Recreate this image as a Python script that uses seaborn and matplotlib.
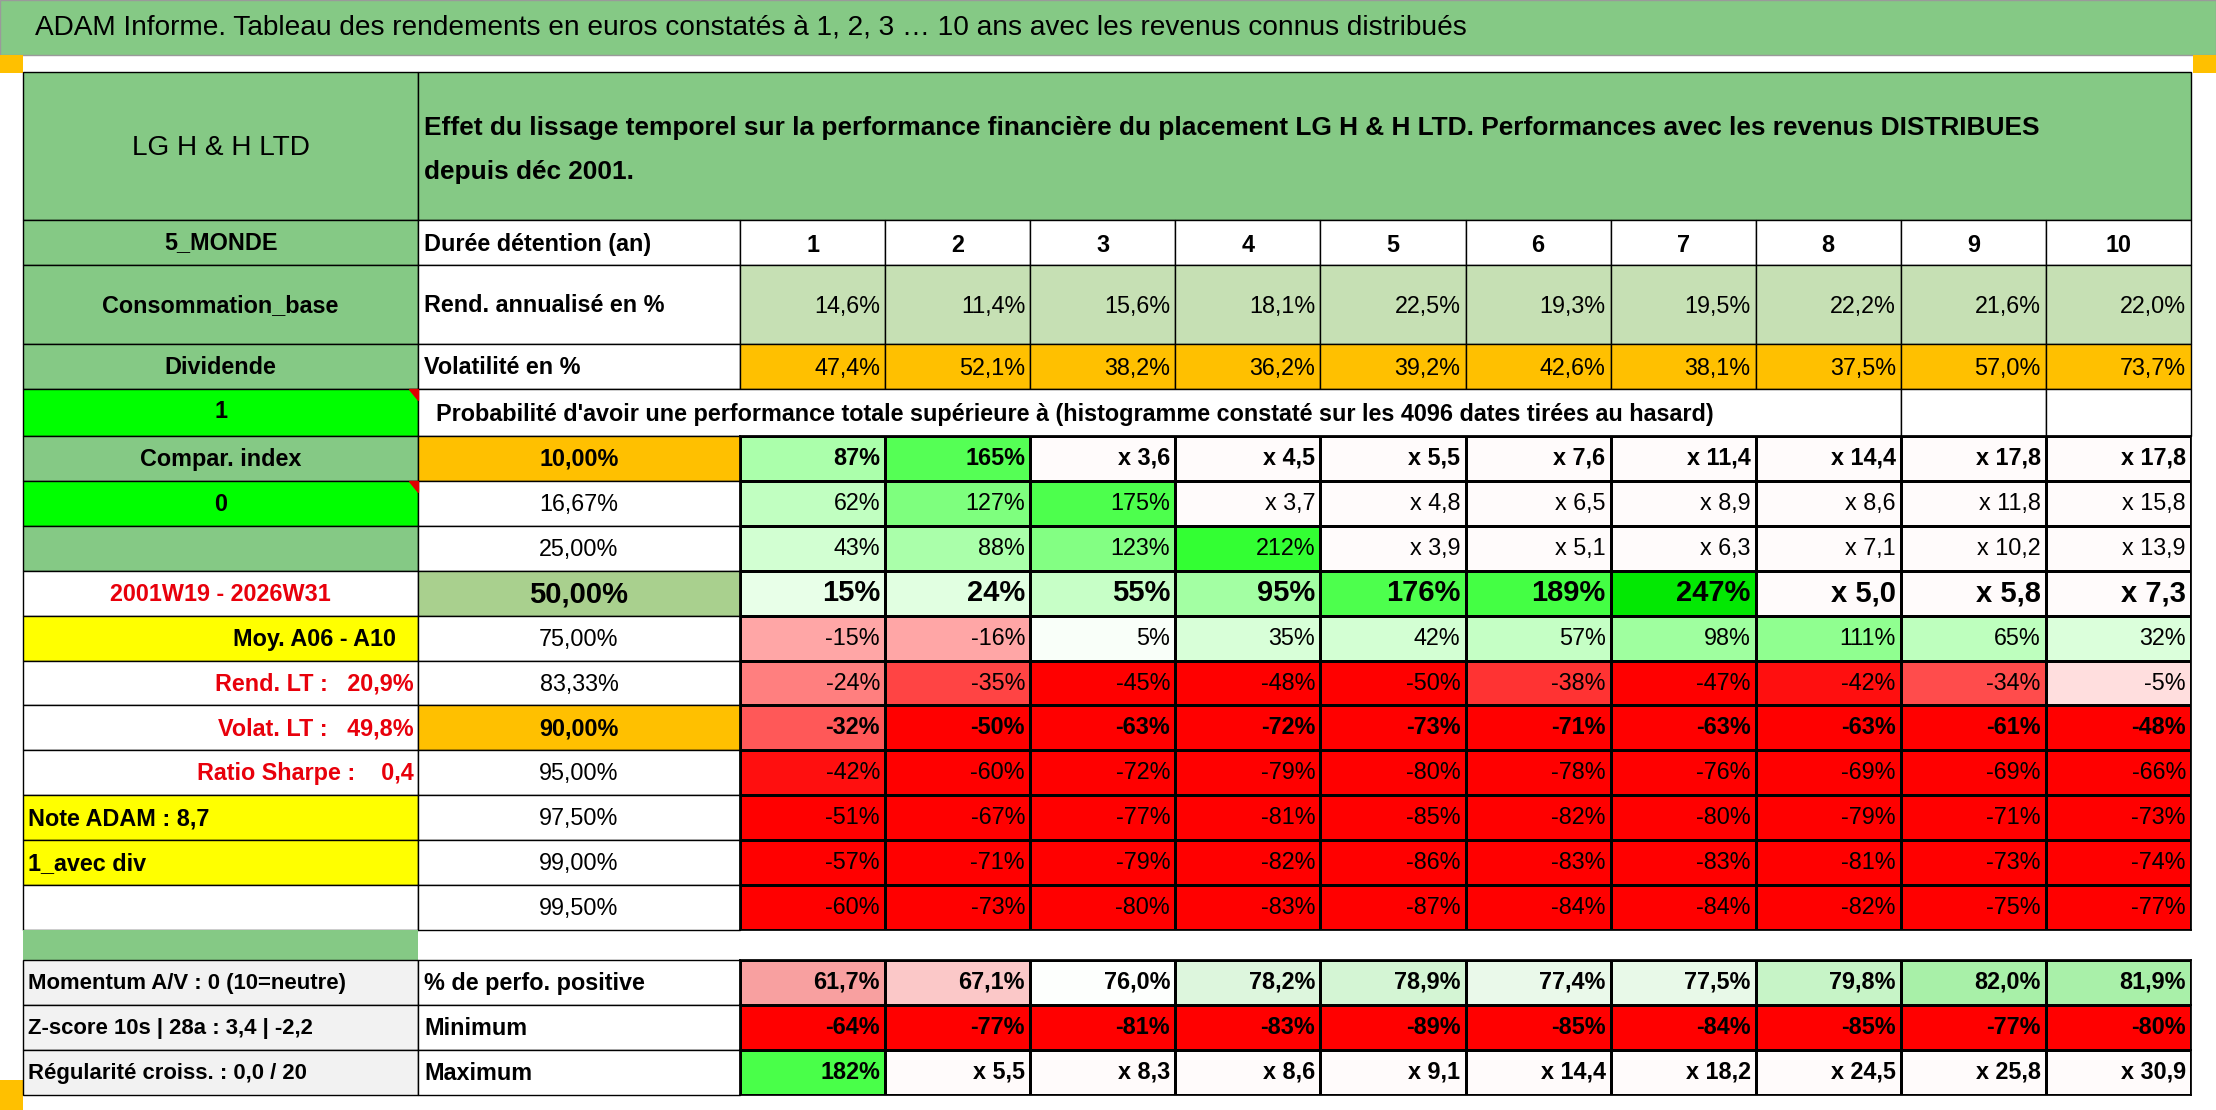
import numpy as np
import matplotlib
matplotlib.use("Agg")
import matplotlib.pyplot as plt
from matplotlib import font_manager
from matplotlib.colors import LinearSegmentedColormap, ListedColormap
from matplotlib.patches import Rectangle, Polygon
import seaborn as sns

W, H = 2216, 1110

# ---- data ----
TITLE = "ADAM Informe. Tableau des rendements en euros constatés à 1, 2, 3 … 10 ans avec les revenus connus distribués"
HEADER = ("Effet du lissage temporel sur la performance financière du placement LG H & H LTD. "
          "Performances avec les revenus DISTRIBUES\ndepuis déc 2001.")
years = [str(i) for i in range(1, 11)]
rend = ["14,6%", "11,4%", "15,6%", "18,1%", "22,5%", "19,3%", "19,5%", "22,2%", "21,6%", "22,0%"]
volat = ["47,4%", "52,1%", "38,2%", "36,2%", "39,2%", "42,6%", "38,1%", "37,5%", "57,0%", "73,7%"]
percentiles = ["10,00%", "16,67%", "25,00%", "50,00%", "75,00%", "83,33%",
               "90,00%", "95,00%", "97,50%", "99,00%", "99,50%"]
perf_rows = [
    ["87%", "165%", "x 3,6", "x 4,5", "x 5,5", "x 7,6", "x 11,4", "x 14,4", "x 17,8", "x 17,8"],
    ["62%", "127%", "175%", "x 3,7", "x 4,8", "x 6,5", "x 8,9", "x 8,6", "x 11,8", "x 15,8"],
    ["43%", "88%", "123%", "212%", "x 3,9", "x 5,1", "x 6,3", "x 7,1", "x 10,2", "x 13,9"],
    ["15%", "24%", "55%", "95%", "176%", "189%", "247%", "x 5,0", "x 5,8", "x 7,3"],
    ["-15%", "-16%", "5%", "35%", "42%", "57%", "98%", "111%", "65%", "32%"],
    ["-24%", "-35%", "-45%", "-48%", "-50%", "-38%", "-47%", "-42%", "-34%", "-5%"],
    ["-32%", "-50%", "-63%", "-72%", "-73%", "-71%", "-63%", "-63%", "-61%", "-48%"],
    ["-42%", "-60%", "-72%", "-79%", "-80%", "-78%", "-76%", "-69%", "-69%", "-66%"],
    ["-51%", "-67%", "-77%", "-81%", "-85%", "-82%", "-80%", "-79%", "-71%", "-73%"],
    ["-57%", "-71%", "-79%", "-82%", "-86%", "-83%", "-83%", "-81%", "-73%", "-74%"],
    ["-60%", "-73%", "-80%", "-83%", "-87%", "-84%", "-84%", "-82%", "-75%", "-77%"],
]
left_labels = ["Compar. index", "0", "", "2001W19 - 2026W31", "Moy. A06 - A10",
               "Rend. LT :   20,9%", "Volat. LT :   49,8%", "Ratio Sharpe :    0,4",
               "Note ADAM : 8,7", "1_avec div", ""]
pos_share = ["61,7%", "67,1%", "76,0%", "78,2%", "78,9%", "77,4%", "77,5%", "79,8%", "82,0%", "81,9%"]
minimum = ["-64%", "-77%", "-81%", "-83%", "-89%", "-85%", "-84%", "-85%", "-77%", "-80%"]
maximum = ["182%", "x 5,5", "x 8,3", "x 8,6", "x 9,1", "x 14,4", "x 18,2", "x 24,5", "x 25,8", "x 30,9"]
bottom_labels = ["Momentum A/V : 0 (10=neutre)", "Z-score 10s | 28a : 3,4 | -2,2", "Régularité croiss. : 0,0 / 20"]
bottom_names = ["% de perfo. positive", "Minimum", "Maximum"]

GREEN = "#85c985"
LIME = "#00ff00"
ORANGE = "#ffc000"
YELLOW = "#ffff00"
RED_TXT = "#e8000b"

installed = {f.name for f in font_manager.fontManager.ttflist}
if "Liberation Sans Narrow" in installed:
    FONT, K = ["Liberation Sans Narrow", "DejaVu Sans"], 1.0
else:
    FONT, K = ["Liberation Sans", "DejaVu Sans"], 0.84

sns.set_theme(style="white")
plt.rcParams["font.family"] = FONT


def to_value(s):
    """Displayed label -> total performance in %, multiples shown as 'x m'."""
    s = s.replace(",", ".").replace("%", "")
    if s.startswith("x"):
        return (float(s[1:]) - 1) * 100
    return float(s)


def colour_value(s):
    # multiples are left without fill (0 maps to white)
    return 0.0 if s.startswith("x") else to_value(s)


perf_cmap = LinearSegmentedColormap.from_list("perf", [
    (0.0, "#ff0000"), (5 / 300, "#ff0000"), (15 / 300, "#ff4b4b"), (26 / 300, "#ff8080"),
    (35 / 300, "#ffaaaa"), (45 / 300, "#ffe0e0"), (50 / 300, "#ffffff"), (65 / 300, "#e8ffe8"),
    (95 / 300, "#d0ffd0"), (140 / 300, "#a8ffa8"), (165 / 300, "#8cff8c"),
    (215 / 300, "#55ff55"), (262 / 300, "#33ff33"), (1.0, "#00e600")])
share_cmap = LinearSegmentedColormap.from_list("share", [
    (0.0, "#f8a0a0"), (0.27, "#fbc8c8"), (0.7, "#ffffff"), (0.8, "#e2f7e2"), (1.0, "#a8f0a8")])

fig = plt.figure(figsize=(W / 100, H / 100), dpi=100)
bg = fig.add_axes([0, 0, 1, 1])
bg.set_xlim(0, W)
bg.set_ylim(H, 0)
bg.axis("off")


def cell(x0, y0, x1, y1, color="white", lw=1.0):
    bg.add_patch(Rectangle((x0, y0), x1 - x0, y1 - y0, facecolor=color,
                           edgecolor="black", linewidth=lw, zorder=1))


def txt(x, y, s, ha="center", size=20, bold=False, color="black", **kw):
    bg.text(x, y, s, ha=ha, va="center", fontsize=size * K, color=color,
            fontweight="bold" if bold else "normal", zorder=3, **kw)


def axes_at(x0, y0, x1, y1):
    return fig.add_axes([x0 / W, 1 - y1 / H, (x1 - x0) / W, (y1 - y0) / H])


def strip(x0, y0, x1, y1, labels, cmap, vmin, vmax, bold_rows=(), sizes=None):
    lab = np.array(labels, dtype=object)
    vals = np.array([[colour_value(s) for s in row] for row in labels], dtype=float)
    ax = axes_at(x0, y0, x1, y1)
    sns.heatmap(vals, ax=ax, cmap=cmap, vmin=vmin, vmax=vmax, cbar=False,
                linewidths=1, linecolor="black", annot=lab, fmt="",
                annot_kws={"fontsize": 20 * K, "color": "black"},
                xticklabels=False, yticklabels=False)
    for t in ax.texts:
        cx, cy = t.get_position()
        r = int(cy)
        t.set_ha("right")
        t.set_x(int(cx) + 0.965)
        t.set_color("black")
        if r in bold_rows:
            t.set_fontweight("bold")
        if sizes is not None:
            t.set_fontsize(sizes[r] * K)
    for s in ax.spines.values():
        s.set_visible(True)
        s.set_color("black")
    return ax


COL_X = np.linspace(740, 2191, 11)
LX0, LX1, NX1 = 23, 418, 740

# title bar
bg.add_patch(Rectangle((0, 0), W, 55, facecolor=GREEN, edgecolor="#9a9a9a", lw=1))
txt(35, 28, TITLE, ha="left", size=24)
bg.add_patch(Rectangle((0, 55), 23, 18, facecolor=ORANGE, lw=0))
bg.add_patch(Rectangle((2193, 55), 23, 18, facecolor=ORANGE, lw=0))
bg.add_patch(Rectangle((0, 1080), 23, 30, facecolor=ORANGE, lw=0))

# header
cell(LX0, 72, LX1, 220, GREEN)
cell(LX1, 72, 2191, 220, GREEN)
txt((LX0 + LX1) / 2, 148, "LG H & H LTD", size=24)
txt(424, 150, HEADER, ha="left", size=22.5, bold=True, linespacing=2.0)

# durée row
cell(LX0, 220, LX1, 265, GREEN)
cell(LX1, 220, NX1, 265)
txt((LX0 + LX1) / 2, 243, "5_MONDE", bold=True)
txt(424, 245, "Durée détention (an)", ha="left", bold=True)
for j, y in enumerate(years):
    cell(COL_X[j], 220, COL_X[j + 1], 265)
    txt((COL_X[j] + COL_X[j + 1]) / 2, 245, y, bold=True)

# rendement / volatilité rows
cell(LX0, 265, LX1, 344, GREEN)
cell(LX1, 265, NX1, 344)
txt((LX0 + LX1) / 2, 306, "Consommation_base", bold=True)
txt(424, 306, "Rend. annualisé en %", ha="left", bold=True)
cell(LX0, 344, LX1, 389, GREEN)
cell(LX1, 344, NX1, 389)
txt((LX0 + LX1) / 2, 367, "Dividende", bold=True)
txt(424, 368, "Volatilité en %", ha="left", bold=True)
for j in range(10):
    cell(COL_X[j], 265, COL_X[j + 1], 344, "#c6e0b4")
    txt(COL_X[j + 1] - 5, 306, rend[j], ha="right")
    cell(COL_X[j], 344, COL_X[j + 1], 389, ORANGE)
    txt(COL_X[j + 1] - 5, 368, volat[j], ha="right")

# probability caption row
cell(LX0, 389, LX1, 436, LIME)
txt((LX0 + LX1) / 2, 412, "1", bold=True)
bg.add_patch(Polygon([[LX1 - 9, 389], [LX1, 389], [LX1, 400]], color="#e00000", zorder=2))
cell(LX1, 389, COL_X[8], 436)
cell(COL_X[8], 389, COL_X[9], 436)
cell(COL_X[9], 389, COL_X[10], 436)
txt(436, 414, "Probabilité d'avoir une performance totale supérieure à "
    "(histogramme constaté sur les 4096 dates tirées au hasard)", ha="left", bold=True)

# percentile block: labels
y_blk = np.linspace(436, 930, 12)
left_bg = [GREEN, LIME, GREEN, "white", YELLOW, "white", "white", "white", YELLOW, YELLOW, "white"]
name_bg = [ORANGE, "white", "white", "#a9d08e", "white", "white", ORANGE, "white", "white", "white", "white"]
for i, (lab, pct) in enumerate(zip(left_labels, percentiles)):
    y0, y1 = y_blk[i], y_blk[i + 1]
    ym = (y0 + y1) / 2 + 1
    cell(LX0, y0, LX1, y1, left_bg[i])
    cell(LX1, y0, NX1, y1, name_bg[i])
    txt((LX1 + NX1) / 2, ym, pct, size=25 if i == 3 else 20, bold=i in (0, 3, 6))
    if i in (0, 1, 2):
        txt((LX0 + LX1) / 2, ym, lab, bold=True)
    elif i == 3:
        txt((LX0 + LX1) / 2, ym, lab, color=RED_TXT, bold=True)
    elif i == 4:
        txt(396, ym, lab, ha="right", bold=True)
    elif i in (5, 6, 7):
        txt(414, ym, lab, ha="right", color=RED_TXT, bold=True)
    else:
        txt(28, ym, lab, ha="left", bold=True)
bg.add_patch(Polygon([[LX1 - 9, y_blk[1]], [LX1, y_blk[1]], [LX1, y_blk[1] + 11]],
                     color="#e00000", zorder=2))

strip(COL_X[0], 436, COL_X[10], 930, perf_rows, perf_cmap, -50, 250,
      bold_rows=(0, 3, 6), sizes=[20, 20, 20, 25, 20, 20, 20, 20, 20, 20, 20])

# spacer
bg.add_patch(Rectangle((LX0, 930), LX1 - LX0, 30, facecolor=GREEN, lw=0))

# bottom statistics
y_bot = np.linspace(960, 1095, 4)
for i in range(3):
    y0, y1 = y_bot[i], y_bot[i + 1]
    cell(LX0, y0, LX1, y1, "#f2f2f2")
    cell(LX1, y0, NX1, y1)
    txt(28, (y0 + y1) / 2 + 1, bottom_labels[i], ha="left", size=19, bold=True)
    txt(424, (y0 + y1) / 2 + 1, bottom_names[i], ha="left", bold=True)

share_vals = [to_value(s) for s in pos_share]
strip(COL_X[0], y_bot[0], COL_X[10], y_bot[1], [pos_share], share_cmap,
      min(share_vals), max(share_vals), bold_rows=(0,))
strip(COL_X[0], y_bot[1], COL_X[10], y_bot[2], [minimum], ListedColormap(["#ff0000"]),
      -100, 0, bold_rows=(0,))
strip(COL_X[0], y_bot[2], COL_X[10], y_bot[3], [maximum], perf_cmap, -50, 250, bold_rows=(0,))

fig.savefig("out.png", dpi=100)
